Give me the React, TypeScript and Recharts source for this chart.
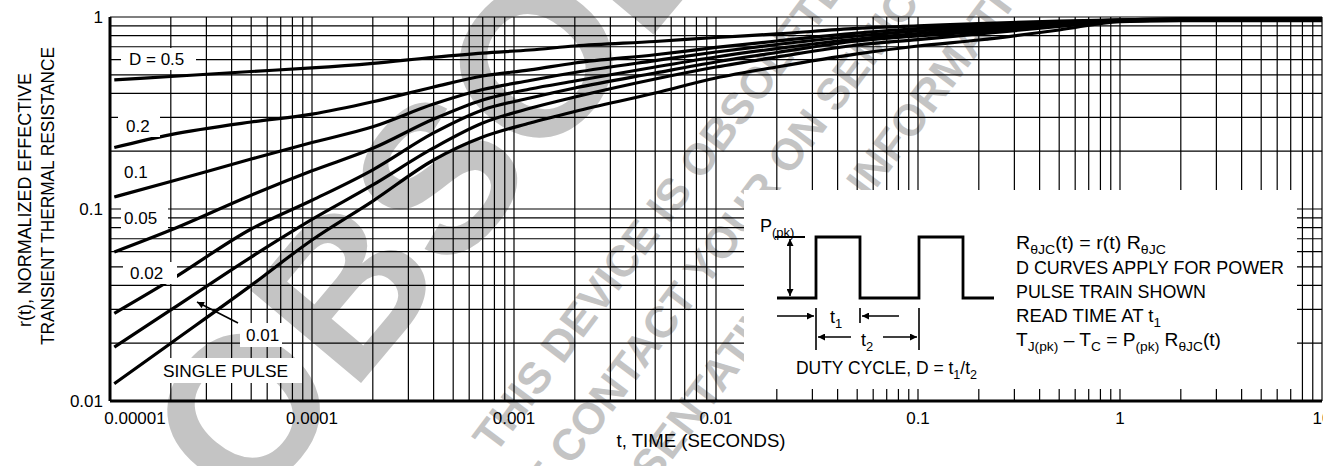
import React from 'react';
import { LineChart, Line, XAxis, YAxis, CartesianGrid } from 'recharts';

// t (seconds) and r(t)
const times = [
  0.0000105, 0.00002, 0.00005, 0.0001, 0.0002, 0.0004, 0.0007, 0.0012, 0.002, 0.005,
  0.01, 0.02, 0.05, 0.1, 0.2, 0.5, 1, 2, 5, 10,
];
const duty05 = [0.47, 0.49, 0.52, 0.543, 0.574, 0.617, 0.649, 0.673, 0.706, 0.7455, 0.782, 0.816, 0.873, 0.898, 0.925, 0.953, 0.965, 0.98, 0.98, 0.98];
const duty02 = [0.209, 0.244, 0.284, 0.312, 0.362, 0.432, 0.493, 0.53, 0.576, 0.636, 0.694, 0.75, 0.825, 0.871, 0.903, 0.942, 0.965, 0.975, 0.975, 0.975];
const duty01 = [0.1155, 0.139, 0.182, 0.222, 0.268, 0.352, 0.419, 0.467, 0.514, 0.593, 0.657, 0.719, 0.796, 0.846, 0.882, 0.931, 0.959, 0.97, 0.97, 0.97];
const duty005 = [0.0597, 0.0777, 0.118, 0.158, 0.207, 0.294, 0.37, 0.4217, 0.464, 0.549, 0.619, 0.685, 0.768, 0.82, 0.861, 0.92, 0.959, 0.965, 0.965, 0.965];
const duty002 = [0.0286, 0.0427, 0.0787, 0.111, 0.16, 0.249, 0.328, 0.3785, 0.427, 0.511, 0.583, 0.653, 0.75, 0.796, 0.84, 0.908, 0.953, 0.962, 0.962, 0.962];
const duty001 = [0.0191, 0.0298, 0.0562, 0.0882, 0.1334, 0.208, 0.2805, 0.3345, 0.383, 0.4755, 0.549, 0.619, 0.715, 0.763, 0.816, 0.892, 0.953, 0.96, 0.96, 0.96];
const singlePulse = [0.0123, 0.02, 0.04, 0.069, 0.11, 0.18, 0.237, 0.2805, 0.322, 0.402, 0.481, 0.549, 0.642, 0.706, 0.759, 0.856, 0.947, 0.958, 0.958, 0.958];

const curveKeys = ['d05', 'd02', 'd01', 'd005', 'd002', 'd001', 'single'];

const xDecades = [0.00001, 0.0001, 0.001, 0.01, 0.1, 1, 10];
const xTickLabels = ['0.00001', '0.0001', '0.001', '0.01', '0.1', '1', '10'];
const yDecades = [0.01, 0.1, 1];
const yTickLabels = ['0.01', '0.1', '1'];
const mantissas = [1, 2, 3, 4, 5, 6, 7, 8, 9];

const gridTicks = (decades: number[]) =>
  decades
    .slice(0, -1)
    .flatMap((d) => mantissas.map((m) => Number((m * d).toPrecision(6))))
    .concat(decades[decades.length - 1]);

const xGridTicks = gridTicks(xDecades);
const yGridTicks = gridTicks(yDecades);

const rows = times.map((t, i) => ({
  t,
  d05: duty05[i],
  d02: duty02[i],
  d01: duty01[i],
  d005: duty005[i],
  d002: duty002[i],
  d001: duty001[i],
  single: singlePulse[i],
}));

const FONT = '"Liberation Sans", Arial, Helvetica, sans-serif';

function TimeTick(props: any) {
  const { x, y, payload } = props;
  const i = xDecades.indexOf(payload.value);
  if (i < 0) return <g />;
  // the datasheet nudges the first label inside the frame
  const shift = i === 0 ? 25 : 0;
  return (
    <text x={x + shift} y={y + 15} textAnchor="middle" fontSize={17} fontFamily={FONT} fill="#000">
      {xTickLabels[i]}
    </text>
  );
}

function ResistanceTick(props: any) {
  const { x, y, payload } = props;
  const i = yDecades.indexOf(payload.value);
  if (i < 0) return <g />;
  return (
    <text x={x + 1} y={y + 6} textAnchor="end" fontSize={17} fontFamily={FONT} fill="#000">
      {yTickLabels[i]}
    </text>
  );
}

type Seg = { s: string; sub?: boolean };

// text with subscripts, e.g. R_θJC
function RichText({ x, y, parts, size = 17, width }: { x: number; y: number; parts: Seg[]; size?: number; width?: number }) {
  let prevSub = false;
  return (
    <text x={x} y={y} fontSize={size} fontFamily={FONT} fill="#000" textLength={width} lengthAdjust={width ? 'spacingAndGlyphs' : undefined}>
      {parts.map((p, i) => {
        const dy = p.sub && !prevSub ? 5 : !p.sub && prevSub ? -5 : 0;
        prevSub = !!p.sub;
        return (
          <tspan key={i} dy={dy} fontSize={p.sub ? size * 0.72 : size}>
            {p.s}
          </tspan>
        );
      })}
    </text>
  );
}

function LabelBox({ x, y, w, h, text, tx, ty, width }: any) {
  return (
    <g>
      <rect x={x} y={y} width={w} height={h} fill="#fff" />
      <text x={tx} y={ty} fontSize={17} fontFamily={FONT} fill="#000" textLength={width} lengthAdjust={width ? 'spacingAndGlyphs' : undefined}>
        {text}
      </text>
    </g>
  );
}

function Watermark() {
  return (
    <svg width={1323} height={466} style={{ position: 'absolute', left: 0, top: 0 }}>
      <g fill="#c4c4c4" fontFamily={FONT} fontWeight="bold">
        <text transform="translate(247,519) rotate(-50)" fontSize={210}>OBSOLETE</text>
        <text transform="translate(495,455) rotate(-53)" fontSize={44}>THIS DEVICE IS OBSOLETE.</text>
        <text transform="translate(458,617) rotate(-53)" fontSize={44}>PLEASE CONTACT YOUR ON SEMICONDUCTOR</text>
        <text transform="translate(562,606) rotate(-53)" fontSize={44}>REPRESENTATIVE FOR INFORMATION</text>
      </g>
    </svg>
  );
}

function Overlay() {
  return (
    <svg width={1323} height={466} style={{ position: 'absolute', left: 0, top: 0, pointerEvents: 'none' }}>
      <defs>
        <marker id="head" viewBox="0 0 10 10" refX="10" refY="5" markerWidth="10" markerHeight="7" markerUnits="userSpaceOnUse" orient="auto-start-reverse">
          <path d="M0,0 L10,5 L0,10 z" fill="#000" />
        </marker>
      </defs>

      {/* curve labels */}
      <LabelBox x={121} y={48} w={75} h={22} tx={129} ty={65} text="D = 0.5" />
      <LabelBox x={118} y={115} w={42} h={22} tx={126} ty={132} text="0.2" />
      <LabelBox x={118} y={162} w={37} h={22} tx={124} ty={178} text="0.1" />
      <LabelBox x={121} y={207} w={47} h={22} tx={124} ty={224} text="0.05" />
      <LabelBox x={123} y={262} w={54} h={22} tx={130} ty={279} text="0.02" />
      <LabelBox x={240} y={323} w={42} h={24} tx={246} ty={341} text="0.01" />
      <LabelBox x={160} y={358} w={142} h={25} tx={163} ty={377} text="SINGLE PULSE" width={125} />
      <line x1={238} y1={323} x2={197} y2={302} stroke="#000" strokeWidth={1.6} markerEnd="url(#head)" />

      {/* inset */}
      <rect x={744} y={190} width={553} height={199} fill="#fff" />
      <RichText x={760} y={232} size={18} parts={[{ s: 'P' }, { s: '(pk)', sub: true }]} />
      <polyline
        points="777,298 816,298 816,237 860,237 860,298 919,298 919,237 963,237 963,298 994,298"
        fill="none"
        stroke="#000"
        strokeWidth={2.8}
      />
      <line x1={775} y1={237} x2={805} y2={237} stroke="#000" strokeWidth={2} />
      <line x1={790} y1={239} x2={790} y2={296} stroke="#000" strokeWidth={1.6} markerStart="url(#head)" markerEnd="url(#head)" />
      <line x1={816} y1={308} x2={816} y2={350} stroke="#000" strokeWidth={1.6} />
      <line x1={860} y1={308} x2={860} y2={323} stroke="#000" strokeWidth={1.6} />
      <line x1={919} y1={308} x2={919} y2={350} stroke="#000" strokeWidth={1.6} />
      <line x1={777} y1={316} x2={814} y2={316} stroke="#000" strokeWidth={1.6} markerEnd="url(#head)" />
      <line x1={899} y1={316} x2={862} y2={316} stroke="#000" strokeWidth={1.6} markerEnd="url(#head)" />
      <line x1={851} y1={337} x2={818} y2={337} stroke="#000" strokeWidth={1.6} markerEnd="url(#head)" />
      <line x1={883} y1={337} x2={917} y2={337} stroke="#000" strokeWidth={1.6} markerEnd="url(#head)" />
      <RichText x={830} y={323} size={18} parts={[{ s: 't' }, { s: '1', sub: true }]} />
      <RichText x={861} y={346} size={18} parts={[{ s: 't' }, { s: '2', sub: true }]} />
      <RichText x={796} y={374} size={17.5} width={181} parts={[{ s: 'DUTY CYCLE, D = t' }, { s: '1', sub: true }, { s: '/t' }, { s: '2', sub: true }]} />

      <RichText x={1016} y={249} size={17.5} width={150} parts={[{ s: 'R' }, { s: 'θJC', sub: true }, { s: '(t) = r(t) R' }, { s: 'θJC', sub: true }]} />
      <RichText x={1016} y={274} size={17.5} width={268} parts={[{ s: 'D CURVES APPLY FOR POWER' }]} />
      <RichText x={1016} y={298} size={17.5} width={190} parts={[{ s: 'PULSE TRAIN SHOWN' }]} />
      <RichText x={1016} y={322} size={17.5} width={145} parts={[{ s: 'READ TIME AT t' }, { s: '1', sub: true }]} />
      <RichText
        x={1016}
        y={346}
        size={17.5}
        width={205}
        parts={[{ s: 'T' }, { s: 'J(pk)', sub: true }, { s: ' – T' }, { s: 'C', sub: true }, { s: ' = P' }, { s: '(pk)', sub: true }, { s: ' R' }, { s: 'θJC', sub: true }, { s: '(t)' }]}
      />

      {/* axis titles */}
      <text transform="translate(31,200) rotate(-90)" textAnchor="middle" fontSize={19} fontFamily={FONT} textLength={254} lengthAdjust="spacingAndGlyphs">
        r(t), NORMALIZED EFFECTIVE
      </text>
      <text transform="translate(54,196) rotate(-90)" textAnchor="middle" fontSize={19} fontFamily={FONT} textLength={298} lengthAdjust="spacingAndGlyphs">
        TRANSIENT THERMAL RESISTANCE
      </text>
      <text x={701} y={447} textAnchor="middle" fontSize={18} fontFamily={FONT} textLength={169} lengthAdjust="spacingAndGlyphs">
        t, TIME (SECONDS)
      </text>
    </svg>
  );
}

export default function App() {
  return (
    <div style={{ position: 'relative', width: 1323, height: 466, background: '#fff', overflow: 'hidden' }}>
      <style>{'body{margin:0}'}</style>
      <Watermark />
      <div style={{ position: 'absolute', left: 0, top: 0 }}>
        <LineChart width={1323} height={466} data={rows} margin={{ top: 17, right: 1, bottom: 35, left: 0 }}>
          <CartesianGrid stroke="#000" strokeWidth={1.2} />
          <XAxis
            dataKey="t"
            type="number"
            scale="log"
            domain={[0.00001, 10]}
            ticks={xGridTicks}
            interval={0}
            tick={<TimeTick />}
            tickLine={false}
            axisLine={{ stroke: '#000', strokeWidth: 3 }}
            height={30}
            allowDataOverflow
          />
          <YAxis
            type="number"
            scale="log"
            domain={[0.01, 1]}
            ticks={yGridTicks}
            interval={0}
            tick={<ResistanceTick />}
            tickLine={false}
            axisLine={{ stroke: '#000', strokeWidth: 3 }}
            width={110}
            allowDataOverflow
          />
          {curveKeys.map((k) => (
            <Line
              key={k}
              dataKey={k}
              type="monotone"
              stroke="#000"
              strokeWidth={3.2}
              dot={false}
              isAnimationActive={false}
            />
          ))}
        </LineChart>
      </div>
      <Overlay />
    </div>
  );
}
